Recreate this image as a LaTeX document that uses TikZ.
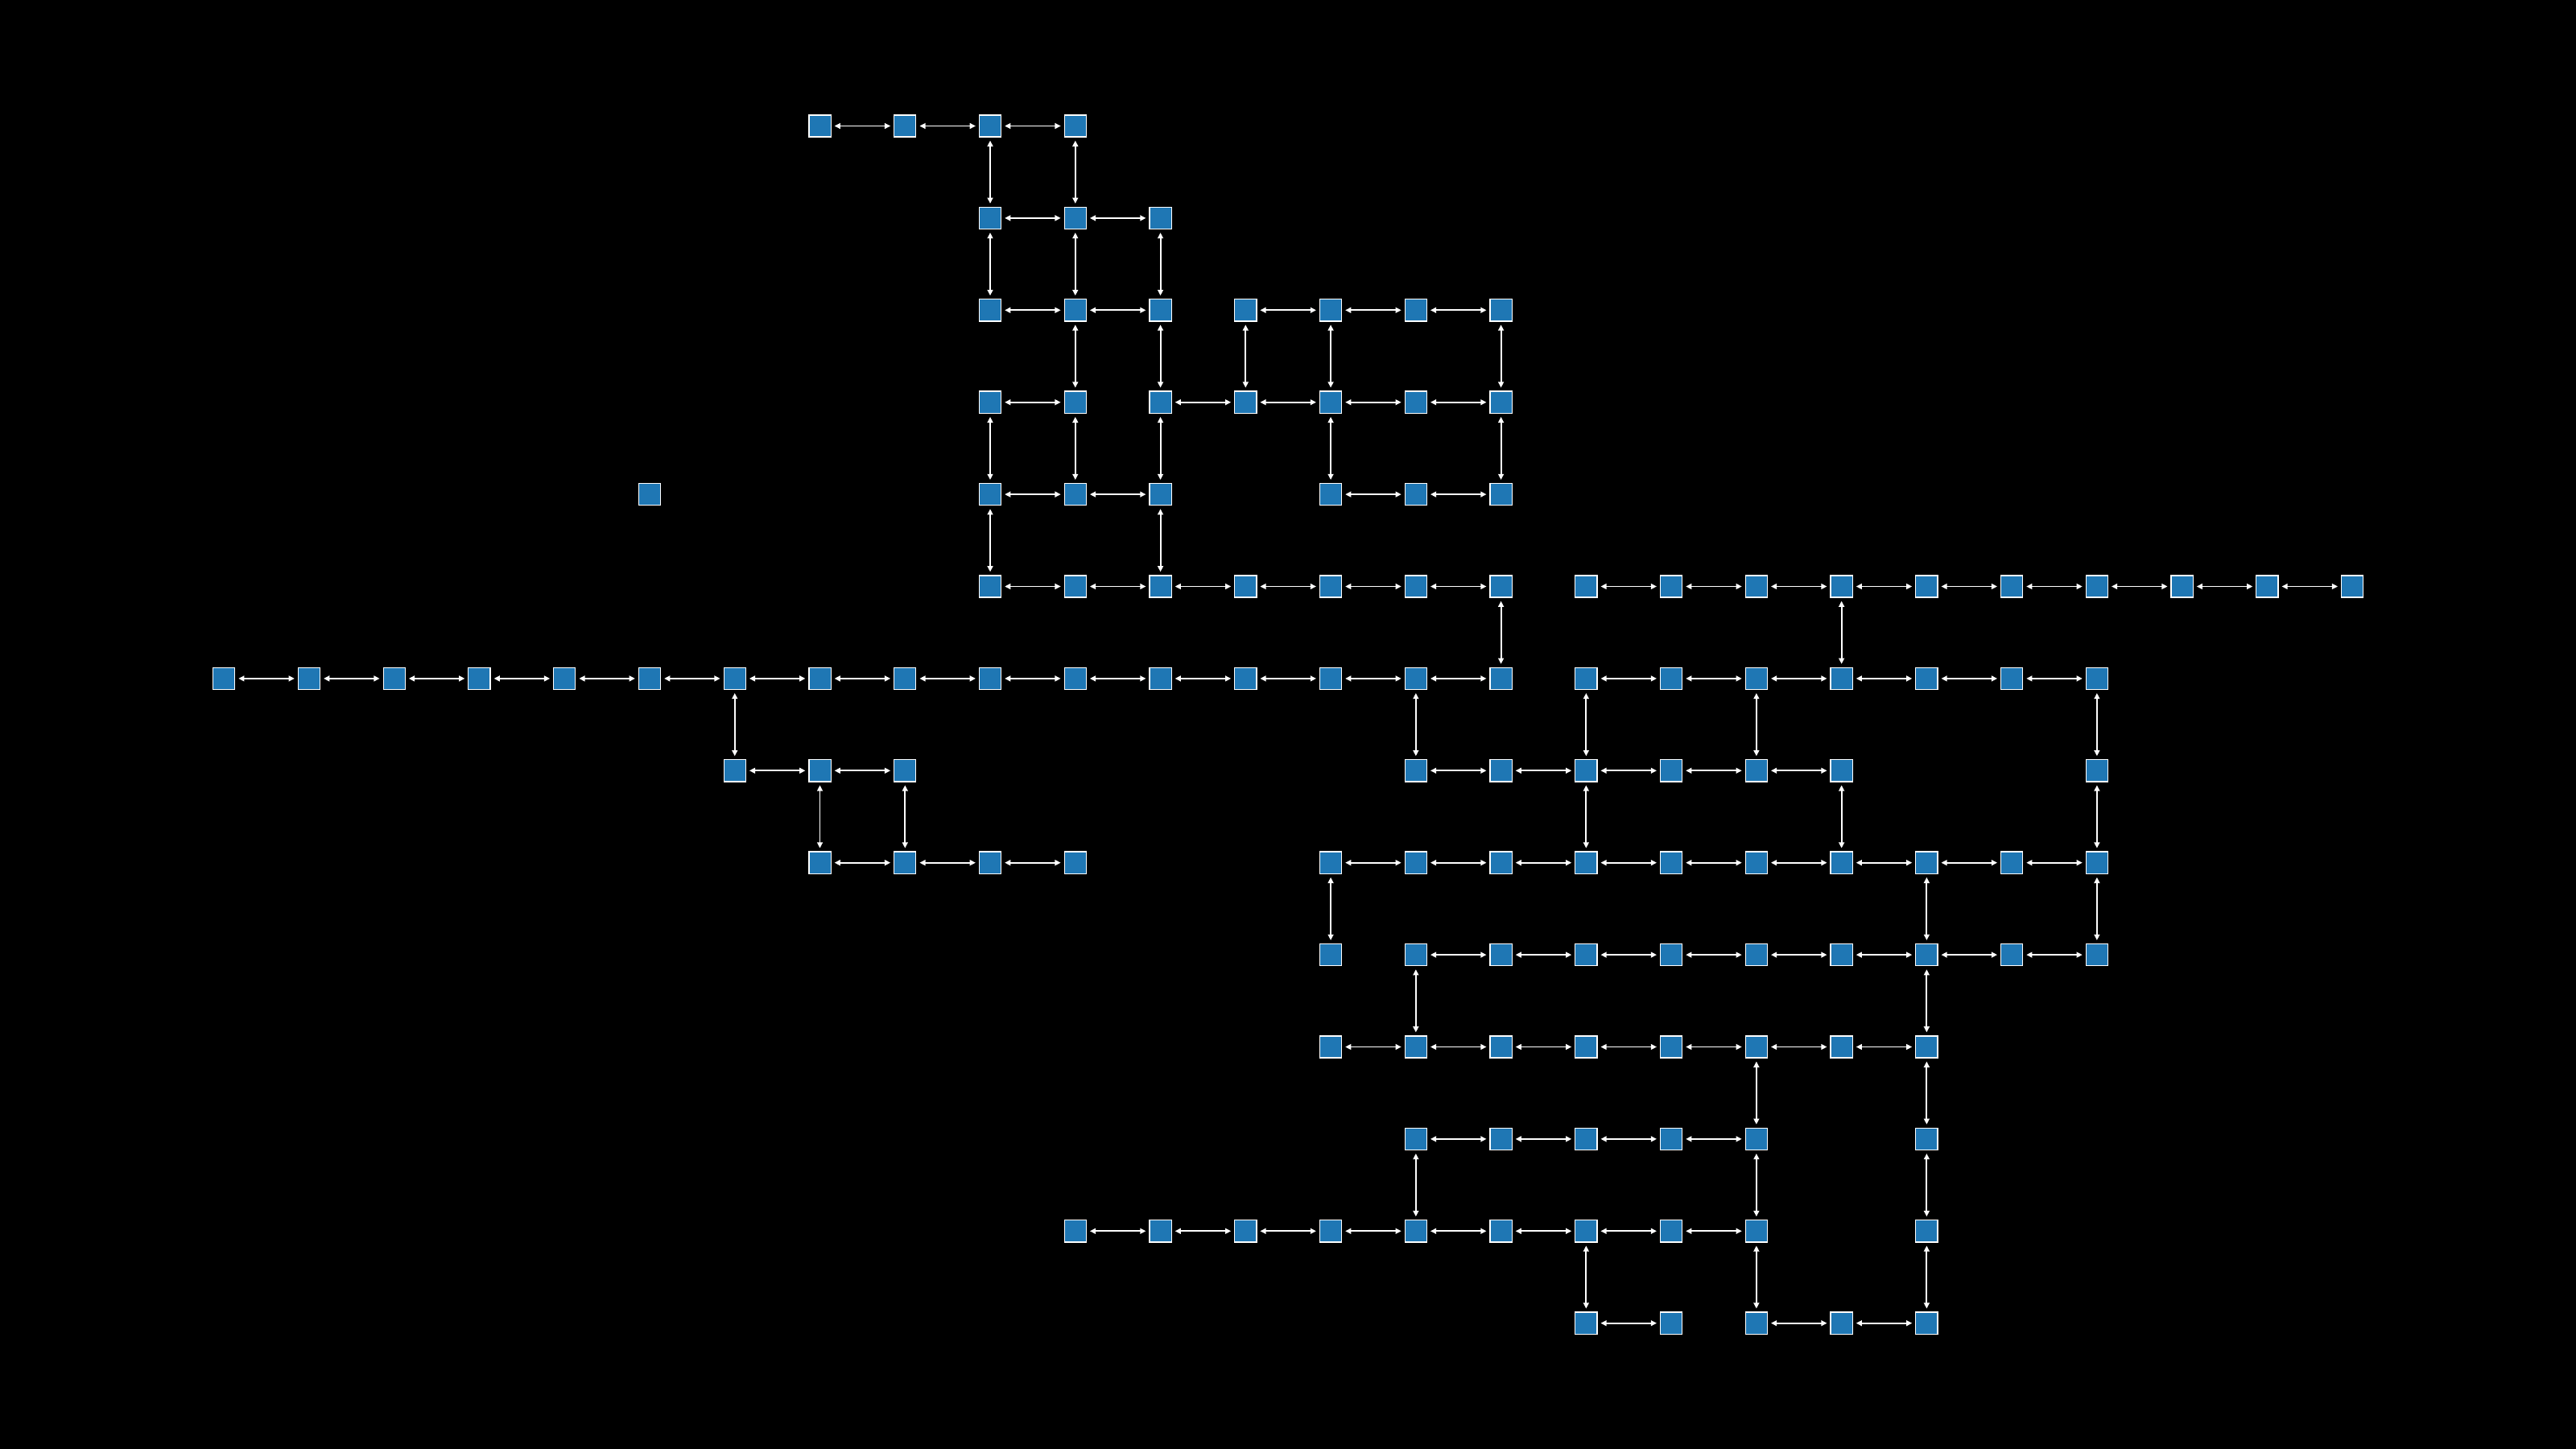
\documentclass[tikz,border=0pt]{standalone}
\usetikzlibrary{arrows.meta}
\definecolor{cellblue}{HTML}{1F77B4}
\tikzset{
    cell/.style={rectangle, draw=white, fill=cellblue, line width=0.35pt,
        minimum size=2.72mm, inner sep=0pt, outer sep=0.45mm},
    link/.style={white, line width=0.55pt, >={Triangle[length=0.72mm,width=0.68mm]}, <->}
}
\begin{document}
\begin{tikzpicture}[x=1.0576cm, y=-1.144cm]
    \fill[black] (-2.6305,-1.368) rectangle (27.627,14.366);
    \foreach \r/\cols in {0/{7,8,9,10}, 1/{9,10,11}, 2/{9,10,11,12,13,14,15},
        3/{9,10,11,12,13,14,15}, 4/{5,9,10,11,13,14,15}, 5/{9,...,25},
        6/{0,...,22}, 7/{6,7,8,14,15,16,17,18,19,22},
        8/{7,8,9,10,13,14,15,16,17,18,19,20,21,22}, 9/{13,...,22},
        10/{13,...,20}, 11/{14,15,16,17,18,20},
        12/{10,11,12,13,14,15,16,17,18,20}, 13/{16,17,18,19,20}}
        \foreach \c in \cols
            \node[cell] (n\c-\r) at (\c,\r) {};
    \foreach \r/\cols in {0/{7,8,9}, 1/{9,10}, 2/{9,10,12,13,14},
        3/{9,11,12,13,14}, 4/{9,10,13,14},
        5/{9,10,11,12,13,14,16,17,18,19,20,21,22,23,24},
        6/{0,1,2,3,4,5,6,7,8,9,10,11,12,13,14,16,17,18,19,20,21},
        7/{6,7,14,15,16,17,18}, 8/{7,8,9,13,14,15,16,17,18,19,20,21},
        9/{14,...,21}, 10/{13,...,19}, 11/{14,...,17}, 12/{10,...,17},
        13/{16,18,19}}
        \foreach \c in \cols {
            \pgfmathtruncatemacro{\cnext}{\c+1}
            \draw[link] (n\c-\r) -- (n\cnext-\r);
        }
    \foreach \c/\rows in {6/{6}, 7/{7}, 8/{7}, 9/{0,1,3,4}, 10/{0,1,2,3},
        11/{1,2,3,4}, 12/{2}, 13/{2,3,8}, 14/{6,9,11}, 15/{2,3,5},
        16/{6,7,12}, 18/{6,10,11,12}, 19/{5,7}, 20/{8,9,10,11,12},
        22/{6,7,8}}
        \foreach \r in \rows {
            \pgfmathtruncatemacro{\rnext}{\r+1}
            \draw[link] (n\c-\r) -- (n\c-\rnext);
        }
\end{tikzpicture}
\end{document}
